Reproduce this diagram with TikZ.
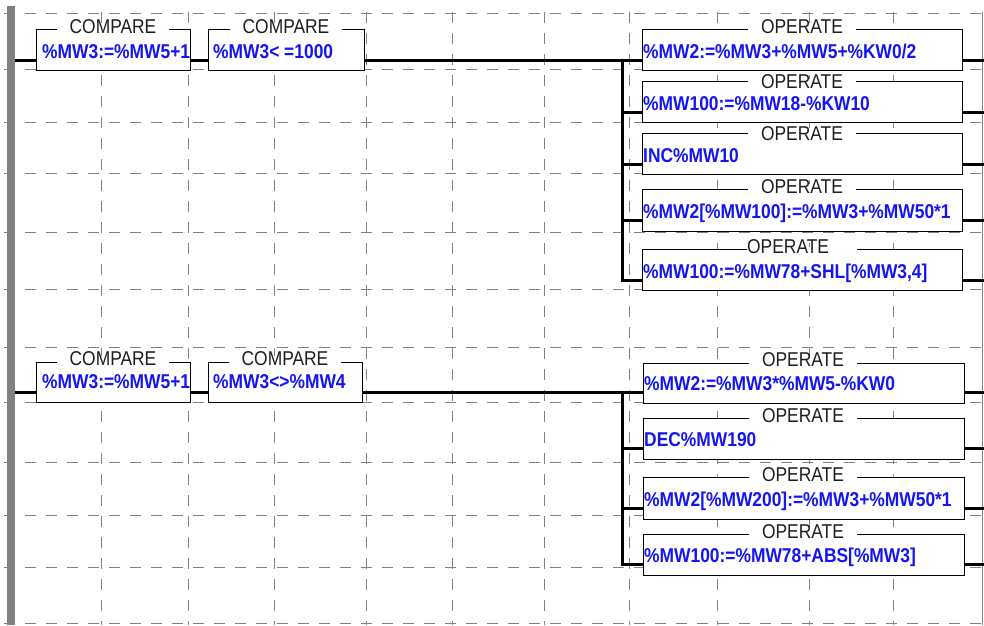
\documentclass[tikz,border=0pt]{standalone}
\usepackage{fontspec}
\newfontfamily\plcfont{Liberation Sans}[FakeStretch=0.87]
\usetikzlibrary{calc}
\definecolor{gridgray}{RGB}{128,128,128}
\definecolor{valblue}{RGB}{20,20,245}
\definecolor{ttlblack}{RGB}{30,30,30}
\begin{document}
\begin{tikzpicture}[x=1pt,y=-1pt,
  gridline/.style={draw=gridgray, line width=1pt, dash pattern=on 11pt off 10pt},
  wire/.style={draw=black, line width=3pt},
  blk/.style={draw=black, line width=1.1pt, fill=white, inner sep=0pt, anchor=north west},
  ttl/.style={fill=white, inner xsep=13pt, inner ysep=0pt, text height=9pt, text depth=0pt, anchor=base, font=\plcfont\fontsize{20}{24}\selectfont, text=ttlblack},
  val/.style={inner sep=0pt, anchor=base west, font=\plcfont\bfseries\fontsize{20}{24}\selectfont, text=valblue}]
\useasboundingbox (0,0) rectangle (984,625);
% grid
\foreach \y in {13,69,122,173,232,289,347,402,462,515,567,623}
  \draw[gridline] (4,\y) -- (984,\y);
\foreach \x in {101,188,274,366,452,544,629,717,809,893}
  \draw[gridline] (\x,12) -- (\x,625);
\draw[gridgray, line width=1pt] (982,12) -- (982,625);
% left rail
\node[fill=gridgray, inner sep=0pt, minimum width=8pt, minimum height=619pt, anchor=north west] (rail) at (7,6) {};
% ---------- rung 1 ----------
\node[blk, minimum width=154pt, minimum height=41pt] (c1) at (36,29) {};
\node[blk, minimum width=156pt, minimum height=41pt] (c2) at (208,29) {};
\node[blk, minimum width=320pt, minimum height=41pt] (o1) at (642,29) {};
\node[blk, minimum width=320pt, minimum height=41pt] (o2) at (642,81) {};
\node[blk, minimum width=320pt, minimum height=41pt] (o3) at (642,133) {};
\node[blk, minimum width=320pt, minimum height=42pt] (o4) at (642,189) {};
\node[blk, minimum width=320pt, minimum height=41pt] (o5) at (642,249) {};
\coordinate (r1) at (15,60.5);
\coordinate (bt1) at (622,58.5);
\coordinate (bb1) at (622,281.5);
\coordinate (e11) at (984,60.5);
\coordinate (e12) at (984,112);
\coordinate (e13) at (984,164);
\coordinate (e14) at (984,220);
\coordinate (e15) at (984,280);
\draw[wire] (rail.east |- r1) -- (r1 -| c1.west);
\draw[wire] (r1 -| c1.east) -- (r1 -| c2.west);
\draw[wire] (r1 -| c2.east) -- (r1 -| bt1);
\draw[wire] (bt1) -- (bb1);
\draw[wire] (bt1 |- e11) -- (e11 -| o1.west);
\draw[wire] (bt1 |- e12) -- (e12 -| o2.west);
\draw[wire] (bt1 |- e13) -- (e13 -| o3.west);
\draw[wire] (bt1 |- e14) -- (e14 -| o4.west);
\draw[wire] (bt1 |- e15) -- (e15 -| o5.west);
\draw[wire] (e11 -| o1.east) -- (e11);
\draw[wire] (e12 -| o2.east) -- (e12);
\draw[wire] (e13 -| o3.east) -- (e13);
\draw[wire] (e14 -| o4.east) -- (e14);
\draw[wire] (e15 -| o5.east) -- (e15);
\node[ttl] (c1t) at (113,33) {COMPARE};
\node[ttl] (c2t) at (286,33) {COMPARE};
\node[ttl] (o1t) at (802,33) {OPERATE};
\node[ttl] (o2t) at (802,88) {OPERATE};
\node[ttl] (o3t) at (802,140) {OPERATE};
\node[ttl] (o4t) at (802,193) {OPERATE};
\fill[white] (747,247) rectangle (857,251);
\node[ttl, anchor=base west, inner xsep=0pt, fill=none] (o5t) at (747,253) {OPERATE};
\node[val] (c1v) at (42,58) {\%MW3:=\%MW5+1};
\node[val] (c2v) at (213,58) {\%MW3< =1000};
\node[val] (o1v) at (643,58) {\%MW2:=\%MW3+\%MW5+\%KW0/2};
\node[val] (o2v) at (643,110) {\%MW100:=\%MW18-\%KW10};
\node[val] (o3v) at (643,162) {INC\%MW10};
\node[val] (o4v) at (643,218) {\%MW2[\%MW100]:=\%MW3+\%MW50*1};
\node[val] (o5v) at (643,278) {\%MW100:=\%MW78+SHL[\%MW3,4]};
% ---------- rung 2 ----------
\node[blk, minimum width=154pt, minimum height=40pt] (d1) at (36,362) {};
\node[blk, minimum width=154pt, minimum height=40pt] (d2) at (208,362) {};
\node[blk, minimum width=321pt, minimum height=40pt] (p1) at (643,363) {};
\node[blk, minimum width=321pt, minimum height=41pt] (p2) at (643,418) {};
\node[blk, minimum width=321pt, minimum height=42pt] (p3) at (643,477) {};
\node[blk, minimum width=321pt, minimum height=41pt] (p4) at (643,534) {};
\coordinate (r2) at (15,392);
\coordinate (bt2) at (622,390.5);
\coordinate (bb2) at (622,565.5);
\coordinate (e21) at (984,392);
\coordinate (e22) at (984,448);
\coordinate (e23) at (984,508);
\coordinate (e24) at (984,564);
\draw[wire] (rail.east |- r2) -- (r2 -| d1.west);
\draw[wire] (r2 -| d1.east) -- (r2 -| d2.west);
\draw[wire] (r2 -| d2.east) -- (r2 -| bt2);
\draw[wire] (bt2) -- (bb2);
\draw[wire] (bt2 |- e21) -- (e21 -| p1.west);
\draw[wire] (bt2 |- e22) -- (e22 -| p2.west);
\draw[wire] (bt2 |- e23) -- (e23 -| p3.west);
\draw[wire] (bt2 |- e24) -- (e24 -| p4.west);
\draw[wire] (e21 -| p1.east) -- (e21);
\draw[wire] (e22 -| p2.east) -- (e22);
\draw[wire] (e23 -| p3.east) -- (e23);
\draw[wire] (e24 -| p4.east) -- (e24);
\node[ttl] (d1t) at (113,365) {COMPARE};
\node[ttl] (d2t) at (285,365) {COMPARE};
\node[ttl] (p1t) at (803,366) {OPERATE};
\node[ttl] (p2t) at (803,422) {OPERATE};
\node[ttl] (p3t) at (803,481) {OPERATE};
\node[ttl] (p4t) at (803,538) {OPERATE};
\node[val] (d1v) at (42,388) {\%MW3:=\%MW5+1};
\node[val] (d2v) at (213,388) {\%MW3<>\%MW4};
\node[val] (p1v) at (644,390) {\%MW2:=\%MW3*\%MW5-\%KW0};
\node[val] (p2v) at (644,446) {DEC\%MW190};
\node[val] (p3v) at (644,506) {\%MW2[\%MW200]:=\%MW3+\%MW50*1};
\node[val] (p4v) at (644,562) {\%MW100:=\%MW78+ABS[\%MW3]};
\end{tikzpicture}
\end{document}
